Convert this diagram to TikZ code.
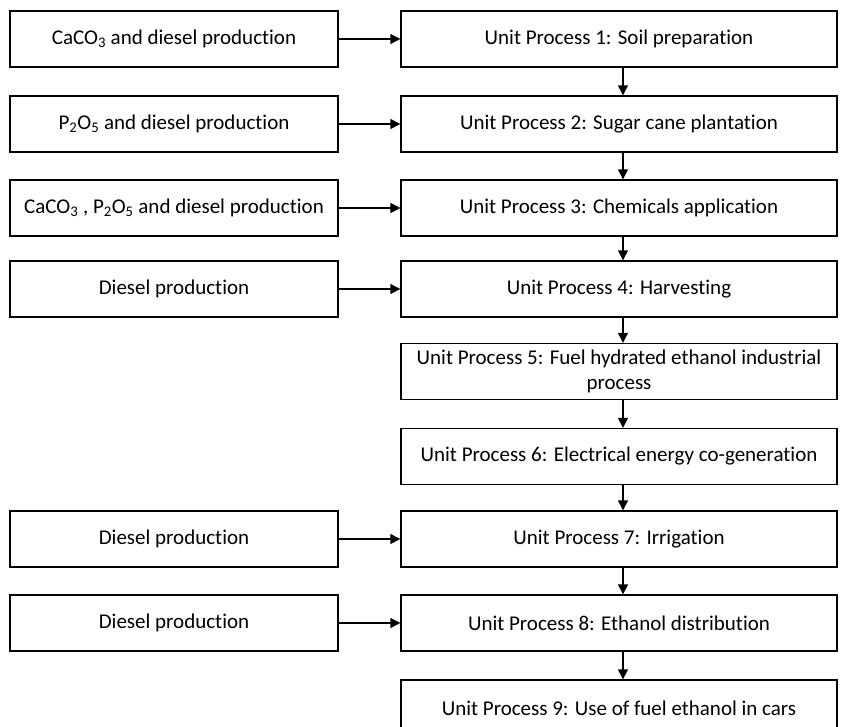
\documentclass[tikz,border=0pt]{standalone}
\usepackage{fontspec}
\setmainfont{Carlito}[RawFeature=-liga]
\usepackage{tikz}
\usetikzlibrary{arrows.meta}

\tikzset{
    inbox/.style={draw, line width=1.4pt, minimum width=328pt, minimum height=56pt, inner sep=0pt},
    upbox/.style={draw, line width=1.4pt, minimum width=436pt, minimum height=56pt, inner sep=0pt, align=center},
    flow/.style={-{Triangle[length=10pt, width=10pt]}, line width=1.4pt}
}

\begin{document}
\begin{tikzpicture}[x=1pt, y=-1pt, font=\fontsize{21}{25}\selectfont]
    \clip (0,0) rectangle (846,726);
    \fill[white] (0,0) rectangle (846,726);

    % Unit processes
    \node[upbox] (up1) at (619,39)    {Unit Process 1: Soil preparation};
    \node[upbox] (up2) at (619,124)   {Unit Process 2: Sugar cane plantation};
    \node[upbox] (up3) at (619,208)   {Unit Process 3: Chemicals application};
    \node[upbox] (up4) at (619,289)   {Unit Process 4: Harvesting};
    \node[upbox] (up5) at (619,371.5) {Unit Process 5: Fuel hydrated ethanol industrial\\process};
    \node[upbox] (up6) at (619,456.5) {Unit Process 6: Electrical energy co-generation};
    \node[upbox] (up7) at (619,539)   {Unit Process 7: Irrigation};
    \node[upbox] (up8) at (619,623)   {Unit Process 8: Ethanol distribution};
    \node[upbox] (up9) at (619,708)   {Unit Process 9: Use of fuel ethanol in cars};

    % Inputs
    \node[inbox] (in1) at (174,39)    {CaCO\textsubscript{3} and diesel production};
    \node[inbox] (in2) at (174,124)   {P\textsubscript{2}O\textsubscript{5} and diesel production};
    \node[inbox] (in3) at (174,208)   {CaCO\textsubscript{3} , P\textsubscript{2}O\textsubscript{5} and diesel production};
    \node[inbox] (in4) at (174,289)   {Diesel production};
    \node[inbox] (in7) at (174,539)   {Diesel production};
    \node[inbox] (in8) at (174,623)   {Diesel production};

    % Arrows
    \draw[flow] (in1) -- (up1);
    \draw[flow] (in2) -- (up2);
    \draw[flow] (in3) -- (up3);
    \draw[flow] (in4) -- (up4);
    \draw[flow] (in7) -- (up7);
    \draw[flow] (in8) -- (up8);

    \draw[flow] ([xshift=4pt]up1.south) -- ([xshift=4pt]up2.north);
    \draw[flow] ([xshift=4pt]up2.south) -- ([xshift=4pt]up3.north);
    \draw[flow] ([xshift=4pt]up3.south) -- ([xshift=4pt]up4.north);
    \draw[flow] ([xshift=4pt]up4.south) -- ([xshift=4pt]up5.north);
    \draw[flow] ([xshift=4pt]up5.south) -- ([xshift=4pt]up6.north);
    \draw[flow] ([xshift=4pt]up6.south) -- ([xshift=4pt]up7.north);
    \draw[flow] ([xshift=4pt]up7.south) -- ([xshift=4pt]up8.north);
    \draw[flow] ([xshift=4pt]up8.south) -- ([xshift=4pt]up9.north);
\end{tikzpicture}
\end{document}
